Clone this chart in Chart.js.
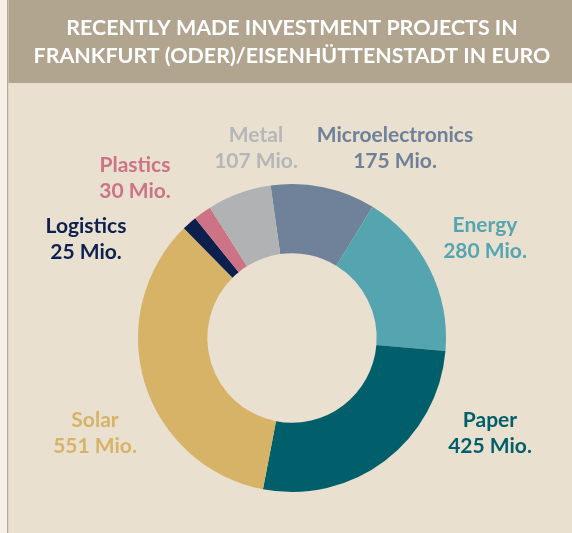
<!DOCTYPE html>
<html>
<head>
<meta charset="utf-8">
<script src="https://cdn.jsdelivr.net/npm/chart.js@4"></script>
<style>
  html, body { margin: 0; padding: 0; background: #f5efe5; }
  #wrap { position: absolute; left: 0; top: 0; width: 572px; height: 533px; }
</style>
</head>
<body>
<div id="wrap"><canvas id="investChart" width="572" height="533"></canvas></div>
<script>
"use strict";

var sectors = ["Microelectronics", "Energy", "Paper", "Solar", "Logistics", "Plastics", "Metal"];
var amounts = [175, 280, 425, 551, 25, 30, 107];
var unitLabel = "Mio.";
var titleLines = ["RECENTLY MADE INVESTMENT PROJECTS IN", "FRANKFURT (ODER)/EISENHÜTTENSTADT IN EURO"];

var sliceColors = ["#6f8299", "#55a5b0", "#015f6b", "#d7b368", "#0c1f4d", "#cc7485", "#b1b2b4"];
var textColors = ["#6e8199", "#55a6b0", "#015f6b", "#d7b368", "#0d2150", "#cb7487", "#b5b6b8"];
// label centre offsets from the doughnut centre
var labelOffsets = [[103, -190], [193, -100], [198, 95], [-197, 95], [-206, -99], [-157, -160], [-36, -190]];

var FONT = "Lato, 'Open Sans', sans-serif";

var panelPlugin = {
  id: "panel",
  beforeDraw: function (chart) {
    var ctx = chart.ctx;
    ctx.save();
    ctx.fillStyle = "#f5efe5";
    ctx.fillRect(0, 0, 7, chart.height);
    ctx.fillStyle = "#b3aa9a";
    ctx.fillRect(7, 0, 1.5, chart.height);
    ctx.fillStyle = "#e9e0cf";
    ctx.fillRect(8.5, 0, chart.width, chart.height);
    ctx.fillStyle = "#b2a590";
    ctx.fillRect(8.5, 0, chart.width, 83);
    ctx.fillStyle = "#ffffff";
    ctx.font = "bold 21.4px " + FONT;
    ctx.textAlign = "center";
    ctx.textBaseline = "middle";
    titleLines.forEach(function (line, i) {
      ctx.fillText(line, 292, 28 + i * 28.5);
    });
    ctx.restore();
  },
};

var labelPlugin = {
  id: "sliceLabels",
  afterDatasetsDraw: function (chart) {
    var ctx = chart.ctx;
    var arcs = chart.getDatasetMeta(0).data;
    ctx.save();
    ctx.font = "bold 21px " + FONT;
    ctx.textAlign = "center";
    ctx.textBaseline = "middle";
    arcs.forEach(function (arc, i) {
      var x = arc.x + labelOffsets[i][0];
      var y = arc.y + labelOffsets[i][1];
      ctx.fillStyle = textColors[i];
      ctx.fillText(sectors[i], x, y - 13);
      ctx.fillText(amounts[i] + " " + unitLabel, x, y + 13);
    });
    ctx.restore();
  },
};

new Chart(document.getElementById("investChart").getContext("2d"), {
  type: "doughnut",
  data: {
    labels: sectors,
    datasets: [
      {
        data: amounts,
        backgroundColor: sliceColors,
        borderWidth: 0,
      },
    ],
  },
  options: {
    responsive: false,
    animation: false,
    cutout: "55%",
    rotation: -8,
    layout: {
      padding: { left: 138, right: 126, top: 184, bottom: 41 },
    },
    plugins: {
      legend: { display: false },
      tooltip: { enabled: false },
      title: { display: false },
    },
  },
  plugins: [panelPlugin, labelPlugin],
});
</script>
</body>
</html>
